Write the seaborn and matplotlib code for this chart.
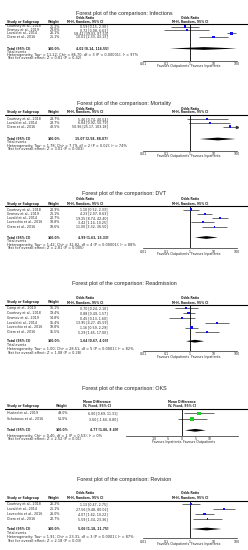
import numpy as np
import pandas as pd
import seaborn as sns
import matplotlib.pyplot as plt
import matplotlib.transforms as mtransforms
from matplotlib.lines import Line2D

sns.set_style("white")
plt.rcParams['font.family'] = ['DejaVu Sans']

# ---------------- data ----------------
inf_studies = ["Courtney et al., 2018", "Gromov et al., 2019", "Lovald et al., 2014", "Otero et al., 2016"]
inf_weight = [25.2, 23.6, 26.1, 25.1]
inf_est = [0.59, 0.72, 58.42, 10.01]
inf_lo = [0.15, 0.08, 39.03, 2.33]
inf_hi = [2.30, 6.63, 87.50, 43.13]
inf_total = [4.02, 0.14, 116.55]
inf_het = "Heterogeneity: Tau² = 11.22; Chi² = 86.70, df = 3 (P < 0.00001); I² = 97%"
inf_test = "Test for overall effect: Z = 0.81 (P = 0.42)"

mor_studies = ["Courtney et al., 2018", "Lovald et al., 2014", "Otero et al., 2016"]
mor_weight = [28.7, 28.7, 42.5]
mor_est = [5.46, 6.84, 50.96]
mor_lo = [0.74, 0.92, 25.17]
mor_hi = [40.54, 50.79, 103.18]
mor_total = [15.07, 2.58, 88.07]
mor_het = "Heterogeneity: Tau² = 1.78; Chi² = 7.79, df = 2 (P = 0.02); I² = 74%"
mor_test = "Test for overall effect: Z = 3.01 (P = 0.003)"

dvt_studies = ["Courtney et al., 2018", "Gromov et al., 2019", "Lovald et al., 2014",
               "Lovecchio et al., 2016", "Otero et al., 2016"]
dvt_weight = [20.9, 21.1, 20.7, 18.8, 18.6]
dvt_est = [1.10, 4.23, 19.25, 3.42, 11.00]
dvt_lo = [0.52, 2.07, 8.74, 1.14, 3.32]
dvt_hi = [2.33, 8.63, 42.40, 10.25, 36.50]
dvt_total = [4.99, 1.63, 15.33]
dvt_het = "Heterogeneity: Tau² = 1.42; Chi² = 32.82, df = 4 (P < 0.00001); I² = 88%"
dvt_test = "Test for overall effect: Z = 2.81 (P = 0.005)"

rea_studies = ["Camp et al., 2019", "Courtney et al., 2018", "Gromov et al., 2019",
               "Lovald et al., 2014", "Lovecchio et al., 2016", "Otero et al., 2016"]
rea_weight = [16.1, 19.4, 14.8, 15.4, 18.8, 15.5]
rea_est = [0.70, 0.88, 0.45, 13.95, 1.16, 5.29]
rea_lo = [0.24, 0.49, 0.13, 4.27, 0.59, 1.65]
rea_hi = [2.10, 1.57, 1.60, 45.59, 2.29, 17.00]
rea_total = [1.64, 0.67, 4.03]
rea_het = "Heterogeneity: Tau² = 1.00; Chi² = 28.51, df = 5 (P < 0.0001); I² = 82%"
rea_test = "Test for overall effect: Z = 1.08 (P = 0.28)"

oks_studies = ["Husted et al., 2019", "Schotanus et al., 2016"]
oks_weight = [49.0, 51.0]
oks_est = [6.00, 3.60]
oks_lo = [0.69, -1.60]
oks_hi = [11.31, 8.80]
oks_total = [4.77, 1.06, 8.49]
oks_het = "Heterogeneity: Chi² = 0.40, df = 1 (P = 0.53); I² = 0%"
oks_test = "Test for overall effect: Z = 2.52 (P = 0.01)"

rev_studies = ["Courtney et al., 2018", "Lovald et al., 2014", "Lovecchio et al., 2016", "Otero et al., 2016"]
rev_weight = [26.2, 25.1, 26.0, 22.7]
rev_est = [1.13, 27.56, 4.07, 5.59]
rev_lo = [0.47, 9.48, 1.62, 1.34]
rev_hi = [2.75, 80.02, 10.22, 23.36]
rev_total = [5.06, 1.18, 21.75]
rev_het = "Heterogeneity: Tau² = 1.91; Chi² = 23.31, df = 3 (P < 0.0001); I² = 87%"
rev_test = "Test for overall effect: Z = 2.18 (P = 0.03)"

or_ticks = [0.01, 0.1, 1, 10, 100]
or_ticklabels = ["0.01", "0.1", "1", "10", "100"]
md_ticks = [-10, -5, 0, 5, 10]
md_ticklabels = ["-10", "-5", "0", "5", "10"]

W, H = 248, 550
fig = plt.figure(figsize=(W / 100, H / 100), dpi=100)
FS = 2.3      # table body
FSB = 2.2     # bold headers
FSF = 2.5     # footer lines
TFS = 3.9     # titles


def fx(x):
    return x / W


def fy(y):
    return 1 - y / H


def panel(name, studies, weight, est, lo, hi, total, het, test, lay, kind="or"):
    n = len(studies)
    step = lay["step"]
    # plot axes spans from header line to axis line (rows in index units)
    y_top = (lay["line"] - lay["row0"]) / step
    y_bot = (lay["axis"] - lay["row0"]) / step
    y_tot = (lay["total"] - lay["row0"]) / step
    ax = fig.add_axes([fx(lay["x0"]), fy(lay["axis"]), fx(lay["x1"] - lay["x0"]),
                       (lay["axis"] - lay["line"]) / H])
    if kind == "or":
        ax.set_xscale("log")
        ax.set_xlim(0.01, 100)
        ref = 1
        ticks, tlabels = or_ticks, or_ticklabels
        mcol = "#1010ee"
        sizes = (1.8, 3)
        left_lab, right_lab = "Favours Outpatients", "Favours Inpatients"
        h1, h2 = "Odds Ratio", "M-H, Random, 95% CI"
    else:
        ax.set_xlim(-20, 20)
        ref = 0
        ticks, tlabels = md_ticks, md_ticklabels
        mcol = "#22cc22"
        sizes = (6, 7)
        left_lab, right_lab = "Favours Inpatients", "Favours Outpatients"
        h1, h2 = "Mean Difference", "IV, Fixed, 95% CI"
    ax.set_ylim(y_bot, y_top)
    ax.patch.set_alpha(0)
    for s in ["top", "left", "right"]:
        ax.spines[s].set_visible(False)
    ax.spines["bottom"].set_linewidth(0.5)
    ax.set_xticks(ticks)
    ax.set_xticklabels(tlabels)
    ax.minorticks_off()
    ax.tick_params(axis="x", labelsize=FS, length=1.2, width=0.4, pad=0.3, direction="inout")
    ax.set_yticks([])

    df = pd.DataFrame({"study": studies, "w": weight, "est": est, "lo": lo, "hi": hi,
                       "row": np.arange(n)})
    xmin, xmax = ax.get_xlim()
    ax.hlines(df["row"], np.clip(df["lo"], xmin, xmax), np.clip(df["hi"], xmin, xmax),
              color="#333333", lw=0.5)
    for _, r in df.iterrows():
        if r["hi"] > xmax:
            ax.plot([xmax], [r["row"]], marker=">", ms=1.5, color="#333333", clip_on=False)
    sns.scatterplot(data=df, x="est", y="row", size="w", sizes=sizes, marker="s",
                    color=mcol, edgecolor="none", legend=False, ax=ax, zorder=3)
    ax.axvline(ref, color="black", lw=0.6)
    te, tl, th = total
    dh = 1.4 / step
    ax.fill([max(tl, xmin), te, min(th, xmax), te], [y_tot, y_tot - dh, y_tot, y_tot + dh],
            color="black", lw=0)
    ax.set_xlabel("")
    ax.set_ylabel("")

    # title and header line
    fig.text(0.5, fy(lay["title"]), f"Forest plot of the comparison: {name}",
             ha="center", va="center", fontsize=TFS, family="Liberation Sans")
    fig.add_artist(Line2D([fx(5), fx(248)], [fy(lay["line"]), fy(lay["line"])],
                          color="black", lw=0.8))
    # table headers
    tcen = lay["tcen"]
    pcen = (lay["x0"] + lay["x1"]) / 2 if kind == "md" else 190
    for xc in (tcen, pcen):
        fig.text(fx(xc), fy(lay["hdr1"]), h1, ha="center", va="center", fontsize=FSB, weight="bold")
        fig.text(fx(xc), fy(lay["hdr2"]), h2, ha="center", va="center", fontsize=FSB, weight="bold")
    fig.text(fx(7), fy(lay["hdr2"]), "Study or Subgroup", ha="left", va="center",
             fontsize=FSB, weight="bold")
    fig.text(fx(lay["wr"]), fy(lay["hdr2"]), "Weight", ha="right", va="center",
             fontsize=FSB, weight="bold")

    trans = mtransforms.blended_transform_factory(fig.transFigure, ax.transData)
    for _, r in df.iterrows():
        ax.text(fx(7), r["row"], r["study"], transform=trans, ha="left", va="center", fontsize=FS)
        ax.text(fx(lay["wr"]), r["row"], f"{r['w']:.1f}%", transform=trans, ha="right",
                va="center", fontsize=FS)
        ax.text(fx(lay["vr"]), r["row"], f"{r['est']:.2f} [{r['lo']:.2f}, {r['hi']:.2f}]",
                transform=trans, ha="right", va="center", fontsize=FS)
    ax.text(fx(7), y_tot, "Total (95% CI)", transform=trans, ha="left", va="center",
            fontsize=FSB, weight="bold")
    ax.text(fx(lay["wr"]), y_tot, "100.0%", transform=trans, ha="right", va="center",
            fontsize=FSB, weight="bold")
    ax.text(fx(lay["vr"]), y_tot, f"{te:.2f} [{tl:.2f}, {th:.2f}]", transform=trans,
            ha="right", va="center", fontsize=FSB, weight="bold")
    if lay.get("events") is not None:
        fig.text(fx(7), fy(lay["events"]), "Total events", ha="left", va="center", fontsize=FS)
    fig.text(fx(7), fy(lay["het"]), het, ha="left", va="center", fontsize=FSF)
    fig.text(fx(7), fy(lay["test"]), test, ha="left", va="center", fontsize=FSF)
    refpx = (lay["x0"] + lay["x1"]) / 2
    fav = lay["axis"] + 6
    fig.text(fx(refpx - 1), fy(fav), left_lab, ha="right", va="center", fontsize=FS)
    fig.text(fx(refpx + 1), fy(fav), right_lab, ha="left", va="center", fontsize=FS)


ORX = dict(x0=143, x1=237, wr=60, vr=108, tcen=85)
MDX = dict(x0=126, x1=238, wr=68, vr=118, tcen=97)

panel("Infections", inf_studies, inf_weight, inf_est, inf_lo, inf_hi, inf_total, inf_het, inf_test,
      dict(ORX, title=13.5, hdr1=18, hdr2=21.5, line=23.5, row0=26.5, step=3.4, total=48.5,
           events=51.7, het=54.9, test=58.1, axis=60.5))
panel("Mortality", mor_studies, mor_weight, mor_est, mor_lo, mor_hi, mor_total, mor_het, mor_test,
      dict(ORX, title=104, hdr1=108.5, hdr2=112.3, line=114.5, row0=119, step=3.8, total=139,
           events=142.4, het=145.8, test=149.2, axis=150.5))
panel("DVT", dvt_studies, dvt_weight, dvt_est, dvt_lo, dvt_hi, dvt_total, dvt_het, dvt_test,
      dict(ORX, title=194, hdr1=199.3, hdr2=203.5, line=206, row0=209.5, step=4.3, total=237.5,
           events=241.1, het=244.7, test=248.3, axis=248.3))
panel("Readmission", rea_studies, rea_weight, rea_est, rea_lo, rea_hi, rea_total, rea_het, rea_test,
      dict(ORX, title=284, hdr1=298.3, hdr2=302.5, line=305, row0=308.3, step=4.8, total=341.2,
           events=345.2, het=349.2, test=353.2, axis=351))
panel("OKS", oks_studies, oks_weight, oks_est, oks_lo, oks_hi, oks_total, oks_het, oks_test,
      dict(MDX, title=388.3, hdr1=401.7, hdr2=405.7, line=409.3, row0=413.3, step=6, total=430.3,
           events=None, het=435.8, test=439.5, axis=436), kind="md")
panel("Revision", rev_studies, rev_weight, rev_est, rev_lo, rev_hi, rev_total, rev_het, rev_test,
      dict(ORX, title=480, hdr1=493.3, hdr2=497.8, line=500.5, row0=504, step=5, total=529,
           events=533, het=537, test=541, axis=538.3))

fig.savefig("out.png", dpi=100, facecolor="white")
